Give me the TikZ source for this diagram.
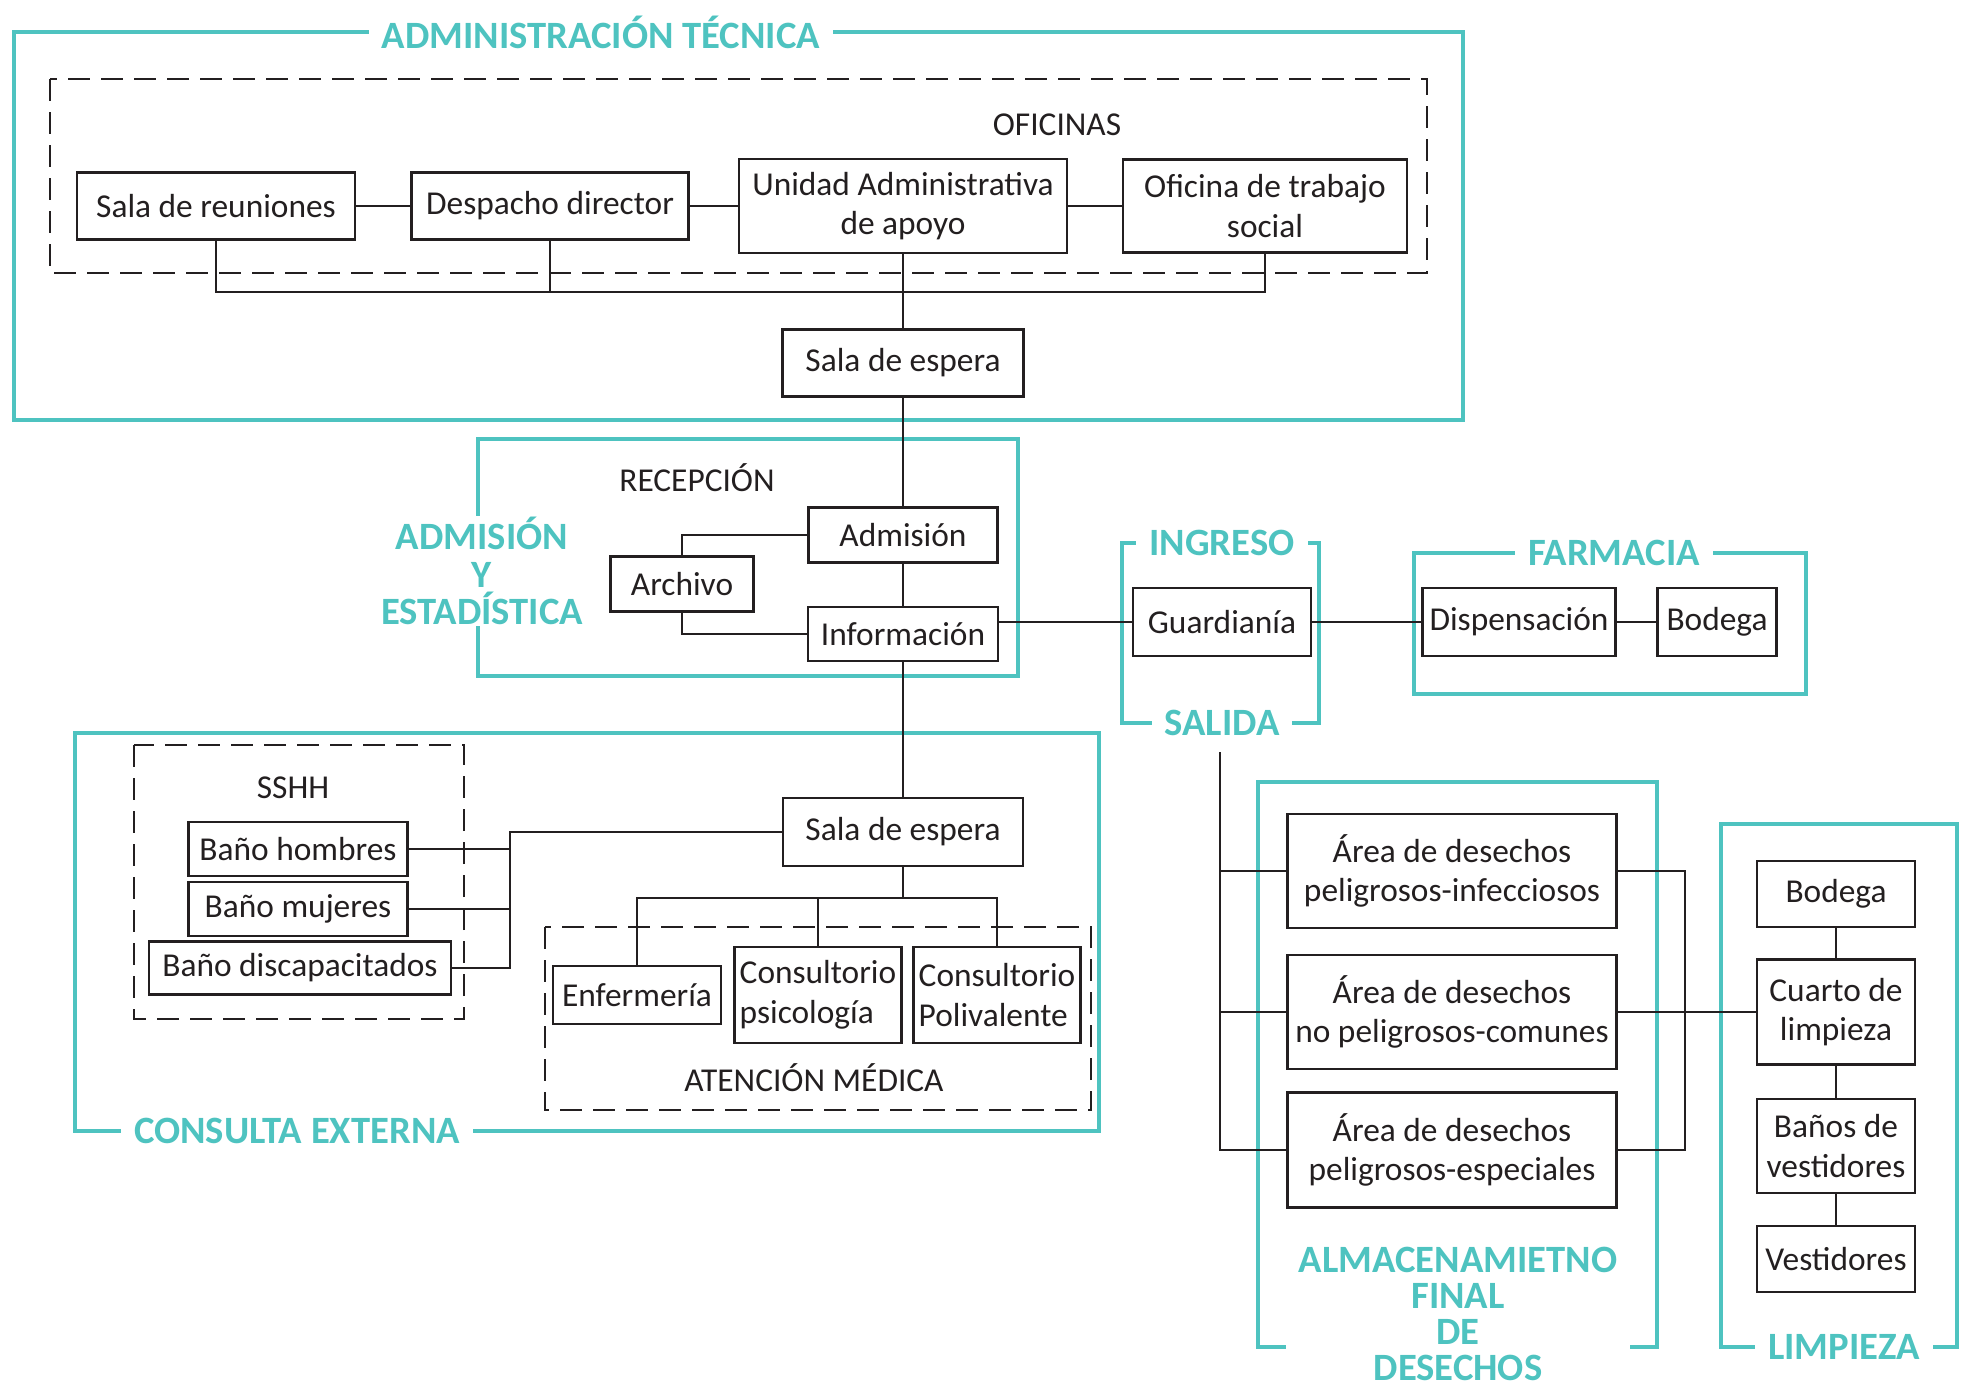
\documentclass[tikz,border=0pt]{standalone}
\usepackage{fontspec}
\setmainfont{Carlito}
\usetikzlibrary{positioning,backgrounds,calc}
\definecolor{grpteal}{HTML}{4EC3C0}
\definecolor{ink}{HTML}{231F20}

\begin{document}
\begin{tikzpicture}[
  x=0.2mm, y=-0.2mm,
  font=\fontsize{19}{22.5}\selectfont, text=ink,
  room/.style={draw=ink, line width=1.6pt, fill=white, align=center, inner sep=0pt},
  sz/.style 2 args={minimum width=#1*0.2mm, minimum height=#2*0.2mm},
  link/.style={draw=ink, line width=1.1pt},
  zone/.style={draw=ink, line width=1.4pt, dash pattern=on 4.4mm off 2.2mm},
  grp/.style={draw=grpteal, line width=1.8pt},
  grplbl/.style={font=\bfseries\fontsize{22}{21.3}\selectfont, text=grpteal, fill=white,
                 align=center, inner xsep=2.6mm, inner ysep=0.6mm},
  zonelbl/.style={inner sep=0pt},
]
\useasboundingbox (0,0) rectangle (1971,1396);

% ---- administracion tecnica ----
\node[room, sz={278}{67}] (reu)  at (216,206)  {Sala de reuniones};
\node[room, sz={277}{67}] (desp) at (550,206)  {Despacho director};
\node[room, sz={328}{94}] (unid) at (903,206)  {Unidad Administrativa\\de apoyo};
\node[room, sz={284}{93}] (ofi)  at (1265,206) {Oficina de trabajo\\social};
\node[room, sz={241}{67}] (esp1) at (903,363)  {Sala de espera};
\node[zonelbl] (lofi) at (1057,125) {OFICINAS};

% ---- admision y estadistica ----
\node[room, sz={189}{55}] (admi) at (903,535) {Admisión};
\node[room, sz={190}{54}] (info) at (903,634) {Información};
\node[room, sz={143}{55}] (arch) at (682,584) {Archivo};
\node[zonelbl] (lrec) at (697,478) {RECEPCIÓN};

% ---- ingreso / salida, farmacia ----
\node[room, sz={178}{68}] (guard) at (1222,622) {Guardianía};
\node[room, sz={193}{68}] (disp)  at (1519,622) {Dispensación};
\node[room, sz={119}{68}] (bod1)  at (1717,622) {Bodega};

% ---- consulta externa ----
\node[room, sz={219}{54}] (bh)   at (298,849)  {Baño hombres};
\node[room, sz={219}{54}] (bm)   at (298,909)  {Baño mujeres};
\node[room, sz={302}{53}] (bd)   at (300,968)  {Baño discapacitados};
\node[room, sz={240}{68}] (esp2) at (903,832)  {Sala de espera};
\node[room, sz={168}{58}] (enf)  at (637,995)  {Enfermería};
\node[room, sz={167}{96}, align=left] (cps) at (818,995) {Consultorio\\psicología};
\node[room, sz={167}{96}, align=left] (cpo) at (997,995) {Consultorio\\Polivalente};
\node[zonelbl] (lsshh) at (293,788)  {SSHH};
\node[zonelbl] (lmed)  at (814,1078) {ATENCIÓN MÉDICA};

% ---- almacenamiento de desechos, limpieza ----
\node[room, sz={329}{114}] (ad1) at (1452,871)  {Área de desechos\\peligrosos-infecciosos};
\node[room, sz={329}{114}] (ad2) at (1452,1012) {Área de desechos\\no peligrosos-comunes};
\node[room, sz={329}{115}] (ad3) at (1452,1150) {Área de desechos\\peligrosos-especiales};
\node[room, sz={158}{66}]  (bod2) at (1836,894)  {Bodega};
\node[room, sz={158}{105}] (cl)   at (1836,1012) {Cuarto de\\limpieza};
\node[room, sz={158}{94}]  (bv)   at (1836,1146) {Baños de\\vestidores};
\node[room, sz={158}{66}]  (ves)  at (1836,1259) {Vestidores};

% ---- group frames ----
\begin{scope}[on background layer]
  \draw[grp]  (14,32) rectangle (1463,420);
  \draw[zone] (50,79) rectangle (1427,273);
  \draw[grp]  (478,439) rectangle (1018,676);
  \draw[grp]  (1122,543) rectangle (1319,723);
  \draw[grp]  (1414,553) rectangle (1806,694);
  \draw[grp]  (75,733) rectangle (1099,1131);
  \draw[zone] (134,745) rectangle (464,1019);
  \draw[zone] (545,927) rectangle (1091,1110);
  \draw[grp]  (1258,782) rectangle (1657,1347);
  \draw[grp]  (1721,824) rectangle (1957,1347);
\end{scope}
\node[grplbl] (ladm)  at (601,32)    {ADMINISTRACIÓN TÉCNICA};
\node[grplbl, inner xsep=1mm, inner ysep=0.3mm] (lest) at (482,571) {ADMISIÓN\\Y\\ESTADÍSTICA};
\node[grplbl] (ling)  at (1222,543)  {INGRESO};
\node[grplbl] (lsal)  at (1222,723)  {SALIDA};
\node[grplbl] (lfar)  at (1614,553)  {FARMACIA};
\node[grplbl] (lcons) at (297,1131)  {CONSULTA EXTERNA};
\node[grplbl, font=\bfseries\fontsize{22}{20.5}\selectfont] (lalm) at (1458,1314)
      {ALMACENAMIETNO\\FINAL\\DE\\DESECHOS};
\node[grplbl] (llim)  at (1844,1347) {LIMPIEZA};

% ---- connectors ----
\coordinate (topbus) at (0,292);
\draw[link] (reu) -- (desp);
\draw[link] (desp) -- (unid);
\draw[link] (unid) -- (ofi);
\draw[link] (reu.south) |- (ofi.south |- topbus) -- (ofi.south);
\draw[link] (desp.south) -- (desp.south |- topbus);
\draw[link] (unid.south) -- (esp1.north);
\draw[link] (esp1.south) -- (admi.north);

\draw[link] (admi) -- (info);
\draw[link] (arch.north) |- (admi.west);
\draw[link] (arch.south) |- (info.west);
\draw[link] (info.south) -- (esp2.north);
\draw[link] (guard.west) -- (guard.west -| info.east);
\draw[link] (guard) -- (disp);
\draw[link] (disp) -- (bod1);

\coordinate (sshh) at (510,832);
\draw[link] (esp2.west) -- (sshh) |- (bd.east);
\draw[link] (bh.east) -- (bh.east -| sshh);
\draw[link] (bm.east) -- (bm.east -| sshh);
\coordinate (medbus) at (903,898);
\draw[link] (esp2.south) -- (medbus);
\draw[link] (enf.north) |- (cpo.north |- medbus) -- (cpo.north);
\draw[link] (cps.north) -- (cps.north |- medbus);

\coordinate (salida) at (1220,752);
\coordinate (almbus) at (1685,0);
\draw[link] (salida) |- (ad3.west);
\draw[link] (ad1.west) -- (ad1.west -| salida);
\draw[link] (ad2.west) -- (ad2.west -| salida);
\draw[link] (ad1.east) -| (almbus |- ad3.east) -- (ad3.east);
\draw[link] (ad2.east) -- (cl.west);
\draw[link] (bod2) -- (cl);
\draw[link] (cl) -- (bv);
\draw[link] (bv) -- (ves);
\end{tikzpicture}
\end{document}
